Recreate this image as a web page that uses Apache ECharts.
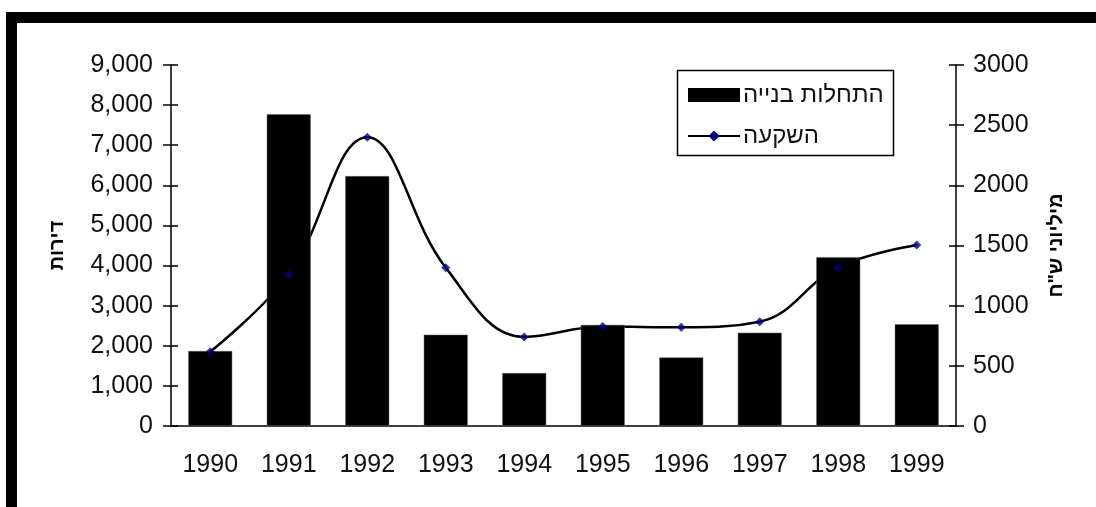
<!DOCTYPE html>
<html><head><meta charset="utf-8">
<script src="https://cdn.jsdelivr.net/npm/echarts@6/dist/echarts.min.js"></script>
<style>html,body{margin:0;padding:0;background:#fff}#c{width:1096px;height:507px}</style>
</head><body><div id="c"></div>
<script>
const years = ['1990','1991','1992','1993','1994','1995','1996','1997','1998','1999'];
const housingStarts = [1870, 7770, 6230, 2275, 1320, 2520, 1710, 2325, 4210, 2535];
const investment = [617, 1260, 2400, 1316, 740, 826, 820, 867, 1320, 1505];
const leftTicks = {min: 0, max: 9000, interval: 1000};
const rightTicks = {min: 0, max: 3000, interval: 500};
const barName = 'התחלות בנייה';
const lineName = 'השקעה';
const leftAxisName = 'דירות';
const rightAxisName = 'מיליוני ש"ח';

const FONT = '"Liberation Sans", Arial, sans-serif';
const chart = echarts.init(document.getElementById('c'));
const lbl = {color: '#111', fontFamily: FONT, fontSize: 25};
chart.setOption({
  animation: false,
  grid: {left: 171, right: 140, top: 65, bottom: 81},
  legend: {
    orient: 'vertical', left: 687, top: 80, padding: 0, itemGap: 11,
    itemWidth: 52, itemHeight: 14, itemStyle: {borderWidth: 0},
    textStyle: {color: '#111', fontFamily: FONT, fontSize: 24, lineHeight: 30, padding: [0,0,0,-2]},
    data: [{name: barName, icon: 'rect'}, {name: lineName}]
  },
  xAxis: [
    {type: 'category', data: years, position: 'bottom',
     axisLine: {lineStyle: {color: '#000', width: 1.5}},
     axisTick: {length: 7, lineStyle: {color: '#000', width: 1.5}},
     axisLabel: Object.assign({margin: 27}, lbl)},
    {type: 'category', data: years, position: 'bottom',
     axisLine: {show: false},
     axisTick: {inside: true, length: 8, lineStyle: {color: '#000', width: 1.5}},
     axisLabel: {show: false}}
  ],
  yAxis: [
    Object.assign({type: 'value', position: 'left', name: leftAxisName, nameLocation: 'middle', nameGap: 104, nameRotate: 90,
     nameMoveOverlap: false,
     nameTextStyle: {color: '#000', fontFamily: FONT, fontSize: 20, fontWeight: 'bold'},
     axisLine: {show: true, lineStyle: {color: '#000', width: 1.5}},
     axisTick: {show: true, length: 8, lineStyle: {color: '#000', width: 1.5}},
     splitLine: {show: false},
     axisLabel: Object.assign({margin: 18, formatter: v => v.toLocaleString('en-US')}, lbl)}, leftTicks),
    Object.assign({type: 'value', position: 'right', name: rightAxisName, nameLocation: 'middle', nameGap: 90, nameRotate: 90,
     nameMoveOverlap: false,
     nameTextStyle: {color: '#000', fontFamily: FONT, fontSize: 20, fontWeight: 'bold'},
     axisLine: {show: true, lineStyle: {color: '#000', width: 1.5}},
     axisTick: {show: true, length: 8, lineStyle: {color: '#000', width: 1.5}},
     splitLine: {show: false},
     axisLabel: Object.assign({margin: 17, formatter: v => String(v)}, lbl)}, rightTicks),
    Object.assign({type: 'value', position: 'left', axisLine: {show: false}, splitLine: {show: false},
     axisTick: {show: true, inside: true, length: 7, lineStyle: {color: '#000', width: 1.5}}, axisLabel: {show: false}}, leftTicks),
    Object.assign({type: 'value', position: 'right', axisLine: {show: false}, splitLine: {show: false},
     axisTick: {show: true, inside: true, length: 7, lineStyle: {color: '#000', width: 1.5}}, axisLabel: {show: false}}, rightTicks)
  ],
  series: [
    {name: lineName, type: 'line', yAxisIndex: 1, data: investment, smooth: 0.4, z: 1,
     showSymbol: false, symbol: 'diamond', symbolSize: 10,
     itemStyle: {color: '#000080'}, lineStyle: {color: '#000', width: 2.5}},
    {name: barName, type: 'bar', data: housingStarts, barCategoryGap: '44%', z: 2,
     itemStyle: {color: '#000', borderColor: '#666', borderWidth: 0.5}},
    {type: 'scatter', yAxisIndex: 1, data: investment, symbol: 'diamond', symbolSize: 9, z: 3,
     itemStyle: {color: '#000080'}}
  ],
  graphic: [
    {type: 'rect', shape: {x: 6, y: 12, width: 1090, height: 11}, style: {fill: '#000'}, z: 10},
    {type: 'rect', shape: {x: 6, y: 12, width: 11, height: 495}, style: {fill: '#000'}, z: 10},
    {type: 'rect', shape: {x: 677.5, y: 70.5, width: 216, height: 85}, style: {fill: 'none', stroke: '#000', lineWidth: 1.5}, z: 10}
  ]
});
</script></body></html>
